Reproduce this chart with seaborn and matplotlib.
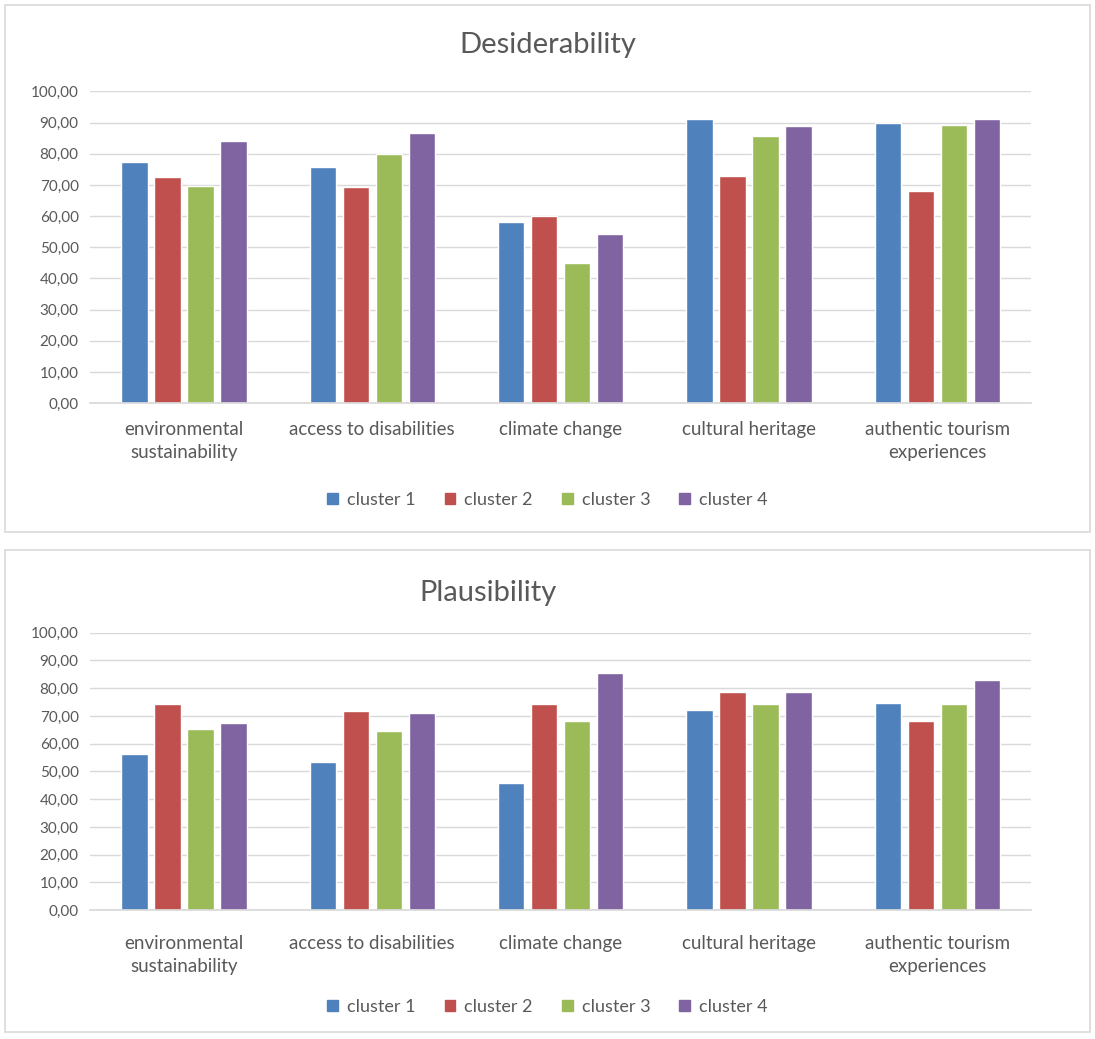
import matplotlib
matplotlib.use("Agg")
import matplotlib.pyplot as plt
from matplotlib.patches import Rectangle
import seaborn as sns
import pandas as pd

categories = ["environmental\nsustainability", "access to disabilities", "climate change",
              "cultural heritage", "authentic tourism\nexperiences"]
clusters = ["cluster 1", "cluster 2", "cluster 3", "cluster 4"]

# Desiderability scores per cluster, one value per category
desir_c1 = [77.5, 75.9, 58.1, 91.2, 89.8]
desir_c2 = [72.6, 69.4, 59.9, 72.8, 68.0]
desir_c3 = [69.8, 79.8, 44.8, 85.6, 89.3]
desir_c4 = [84.0, 86.7, 54.4, 88.8, 91.2]

# Plausibility scores per cluster
plaus_c1 = [56.4, 53.4, 45.8, 72.1, 74.7]
plaus_c2 = [74.2, 71.7, 74.2, 78.6, 68.1]
plaus_c3 = [65.2, 64.6, 68.2, 74.2, 74.2]
plaus_c4 = [67.3, 71.2, 85.4, 78.8, 82.8]

yticks = [0, 10, 20, 30, 40, 50, 60, 70, 80, 90, 100]
palette = ["#4F81BD", "#C0504D", "#9BBB59", "#8064A2"]


def to_long(series):
    rows = []
    for name, vals in zip(clusters, series):
        for cat, v in zip(categories, vals):
            rows.append({"category": cat, "cluster": name, "value": v})
    return pd.DataFrame(rows)


sns.set_theme(style="white")
plt.rcParams["font.family"] = ["Lato", "DejaVu Sans"]
text_col = "#595959"

fig = plt.figure(figsize=(10.95, 10.39), dpi=100)

# panel frames
W, H = 1095, 1039
for (x0, y0, x1, y1) in [(5, 5, 1090, 532), (5, 550, 1090, 1032)]:
    fig.patches.append(Rectangle((x0 / W, 1 - y1 / H), (x1 - x0) / W, (y1 - y0) / H,
                                 transform=fig.transFigure, fill=False,
                                 edgecolor="#D9D9D9", linewidth=1.2))

panels = [
    ("Desiderability", [desir_c1, desir_c2, desir_c3, desir_c4], [0.082, 0.612, 0.860, 0.300],
     (0.500, 0.957), 0.519, 13),
    ("Plausibility", [plaus_c1, plaus_c2, plaus_c3, plaus_c4], [0.082, 0.124, 0.860, 0.267],
     (0.446, 0.429), 0.031, 18),
]

for title, series, rect, tpos, ly, xpad in panels:
    ax = fig.add_axes(rect)
    df = to_long(series)
    sns.barplot(data=df, x="category", y="value", hue="cluster", palette=palette,
                width=0.70, gap=0.2, saturation=1, ax=ax, legend=False)
    ax.set_ylim(0, 100)
    ax.set_xlim(-0.5, len(categories) - 0.5)
    ax.set_yticks(yticks)
    ax.set_yticklabels([f"{t:.2f}".replace(".", ",") for t in yticks], fontsize=11, color=text_col)
    ax.tick_params(axis="x", labelsize=13.5, colors=text_col, length=0, pad=xpad)
    for lab in ax.get_xticklabels():
        lab.set_linespacing(1.45)
    ax.tick_params(axis="y", length=0, pad=8)
    ax.set_xlabel("")
    ax.set_ylabel("")
    ax.yaxis.grid(True, color="#D9D9D9", linewidth=1)
    ax.set_axisbelow(True)
    for s in ["top", "right", "left"]:
        ax.spines[s].set_visible(False)
    ax.spines["bottom"].set_color("#D9D9D9")
    fig.text(tpos[0], tpos[1], title, ha="center", va="center", fontsize=21, color=text_col)
    handles = [Rectangle((0, 0), 1, 1, color=c) for c in palette]
    fig.legend(handles, clusters, loc="center", bbox_to_anchor=(0.500, ly), ncol=4,
               frameon=False, fontsize=13, labelcolor=text_col, handlelength=0.6,
               handleheight=0.6, columnspacing=1.6, handletextpad=0.5)

fig.savefig("out.png", dpi=100)
